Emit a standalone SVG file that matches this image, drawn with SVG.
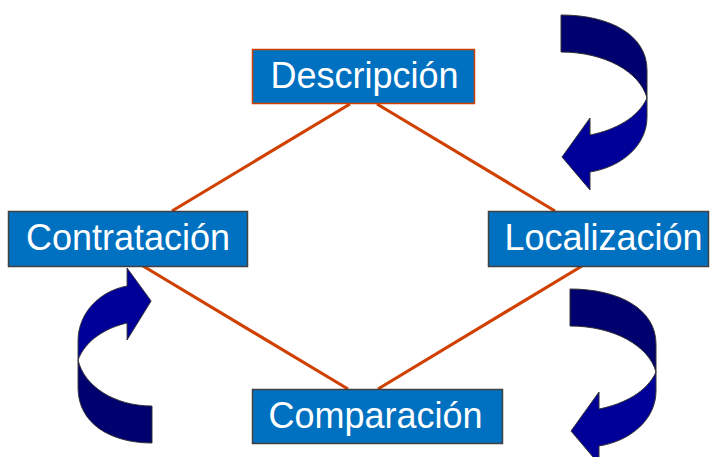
<svg xmlns="http://www.w3.org/2000/svg" width="713" height="457" viewBox="0 0 713 457">
<style>
.box{fill:#0070c0;stroke:#404040;stroke-width:1.5}
.lbl{fill:#ffffff;font-family:"Liberation Sans",Arial,sans-serif;font-size:36px;text-anchor:middle}
.link{stroke:#d04000;stroke-width:3.2;fill:none}
.dark{fill:#00006e;stroke:#333333;stroke-width:1}
.light{fill:#000099;stroke:#333333;stroke-width:1}
</style>
<defs>
<g id="curl">
<path class="dark" d="M561,15 C610,15 647,35 647,70 L647,98 C640,72 605,52 561,52 Z"/>
<path class="light" d="M647,98 L647,117 C647,145 622,167 590,172 L590,190 L562,157 L590,118 L590,135 C615,130 638,118 647,98 Z"/>
</g>
</defs>
<g id="connectors">
<line class="link" x1="350" y1="104" x2="172" y2="211"/>
<line class="link" x1="377" y1="104" x2="555" y2="211"/>
<line class="link" x1="143" y1="266" x2="348" y2="389"/>
<line class="link" x1="582" y1="266" x2="378" y2="389"/>
</g>
<g id="arrow-top-right"><use href="#curl"/></g>
<g id="arrow-bottom-right"><use href="#curl" transform="translate(9,274)"/></g>
<g id="arrow-left"><use href="#curl" transform="matrix(-0.86,0,0,-1,634.46,458)"/></g>
<g id="descripcion">
<rect class="box" x="252.5" y="49.5" width="222" height="54" style="stroke:#d04000"/>
<text class="lbl" x="364.5" y="87.5">Descripción</text>
</g>
<g id="contratacion">
<rect class="box" x="8.5" y="211.5" width="239" height="55"/>
<text class="lbl" x="128" y="250">Contratación</text>
</g>
<g id="localizacion">
<rect class="box" x="488.5" y="211.5" width="220" height="55"/>
<text class="lbl" x="603.5" y="250">Localización</text>
</g>
<g id="comparacion">
<rect class="box" x="252.5" y="389.5" width="250" height="54"/>
<text class="lbl" x="375.5" y="427.5">Comparación</text>
</g>
</svg>
